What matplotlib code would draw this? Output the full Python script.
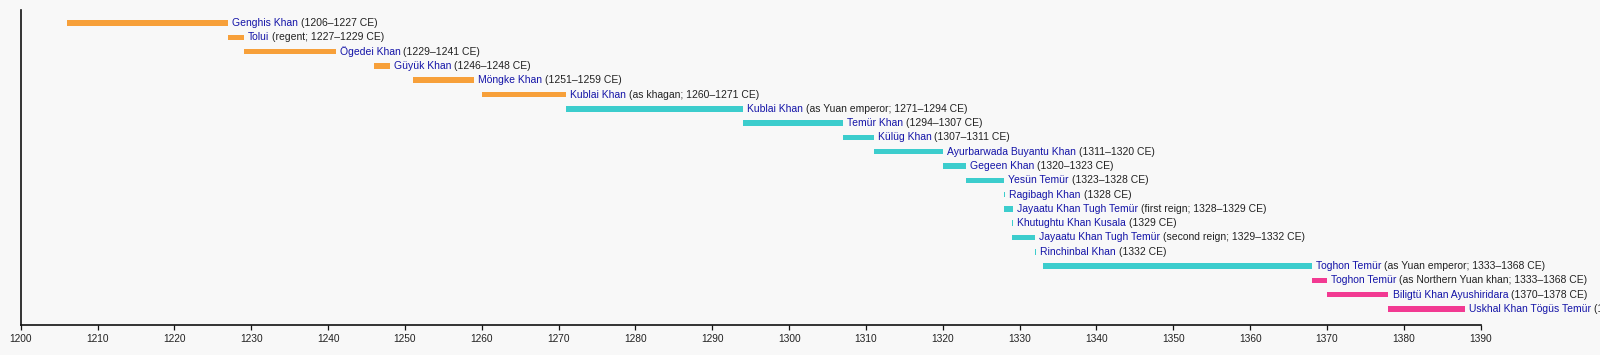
import matplotlib.pyplot as plt

plt.rcParams["font.family"] = ["Liberation Sans", "DejaVu Sans"]

# rulers, top to bottom
names = [
    "Genghis Khan", "Tolui", "Ögedei Khan", "Güyük Khan", "Möngke Khan",
    "Kublai Khan", "Kublai Khan", "Temür Khan", "Külüg Khan",
    "Ayurbarwada Buyantu Khan", "Gegeen Khan", "Yesün Temür", "Ragibagh Khan",
    "Jayaatu Khan Tugh Temür", "Khutughtu Khan Kusala", "Jayaatu Khan Tugh Temür",
    "Rinchinbal Khan", "Toghon Temür", "Toghon Temür",
    "Biligtü Khan Ayushiridara", "Uskhal Khan Tögüs Temür",
]
details = [
    "(1206–1227 CE)", "(regent; 1227–1229 CE)", "(1229–1241 CE)", "(1246–1248 CE)",
    "(1251–1259 CE)", "(as khagan; 1260–1271 CE)", "(as Yuan emperor; 1271–1294 CE)",
    "(1294–1307 CE)", "(1307–1311 CE)", "(1311–1320 CE)", "(1320–1323 CE)",
    "(1323–1328 CE)", "(1328 CE)", "(first reign; 1328–1329 CE)", "(1329 CE)",
    "(second reign; 1329–1332 CE)", "(1332 CE)", "(as Yuan emperor; 1333–1368 CE)",
    "(as Northern Yuan khan; 1333–1368 CE)", "(1370–1378 CE)", "(1378–1388 CE)",
]
starts = [1206, 1227, 1229, 1246, 1251, 1260, 1271, 1294, 1307, 1311, 1320,
          1323, 1328, 1328, 1329, 1329, 1332, 1333, 1368, 1370, 1378]
ends = [1227, 1229, 1241, 1248, 1259, 1271, 1294, 1307, 1311, 1320, 1323,
        1328, 1328.15, 1329.1, 1329.15, 1332, 1332.15, 1368, 1370, 1378, 1388]
groups = ["empire"] * 6 + ["yuan"] * 12 + ["northern"] * 3

group_colors = {"empire": "#f7a03a", "yuan": "#3ccdcd", "northern": "#f23a92"}
name_color = "#1414a8"
text_color = "#222222"
bg = "#f8f8f8"

W, H = 1600, 355
fig = plt.figure(figsize=(W / 100, H / 100), dpi=100, facecolor=bg)

# axes placed in pixels: x 1200 -> 20.7px, 1390 -> 1480.7px, y from 10px to 325px
x0, x1, ytop, ybot = 20.7, 1480.7, 10, 325
ax = fig.add_axes([x0 / W, (H - ybot) / H, (x1 - x0) / W, (ybot - ytop) / H])
ax.set_facecolor(bg)

row0, step = 23, 14.3
ax.set_xlim(1200, 1390)
ax.set_ylim((ybot - row0) / step, (ytop - row0) / step)

for i, (name, det, s, e, g) in enumerate(zip(names, details, starts, ends, groups)):
    ax.barh(i, e - s, left=s, height=0.39, color=group_colors[g], linewidth=0)
    t = ax.annotate(name, xy=(e, i), xytext=(2.9, 0), textcoords="offset points",
                    va="center", ha="left", fontsize=7.5, color=name_color,
                    annotation_clip=False)
    ax.annotate(det, xy=(1, 0), xycoords=t, xytext=(2.1, 0),
                textcoords="offset points", va="bottom", ha="left",
                fontsize=7.5, color=text_color, annotation_clip=False)

for side in ["top", "right"]:
    ax.spines[side].set_visible(False)
for side in ["left", "bottom"]:
    ax.spines[side].set_linewidth(1.2)
    ax.spines[side].set_color("#111111")

ax.set_xticks(range(1200, 1391, 10))
ax.set_yticks([])
ax.tick_params(axis="x", direction="out", length=3.6, width=0.9, color="#111111",
               labelsize=7.3, labelcolor=text_color, pad=3.2)

fig.savefig("out.png", dpi=100, facecolor=bg)
